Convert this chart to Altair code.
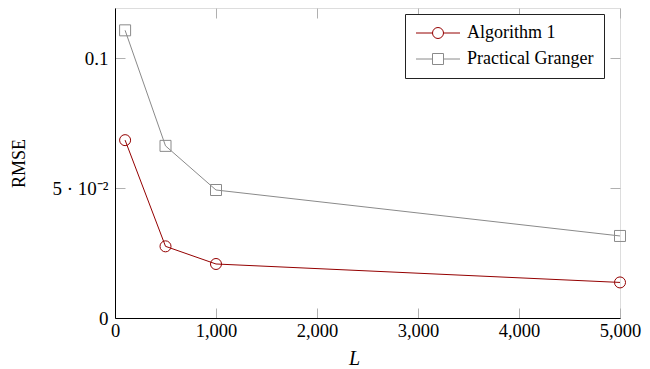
import altair as alt
import pandas as pd

L_values = [100, 500, 1000, 5000]
alg1 = [0.0685, 0.0276, 0.0208, 0.0137]
granger = [0.1108, 0.0663, 0.0493, 0.0316]
series_names = ["Algorithm 1", "Practical Granger"]
colors = ["#940000", "#8a8a8a"]
x_ticks = [0, 1000, 2000, 3000, 4000, 5000]
y_ticks = [0, 0.05, 0.1]

rows = []
for name, vals in zip(series_names, [alg1, granger]):
    for l, v in zip(L_values, vals):
        rows.append({"L": l, "RMSE": v, "series": name})
df = pd.DataFrame(rows)

FONT = "Liberation Serif"

circle_path = "M-4,0H-1M1,0H4M-1,0A1,1,0,1,1,1,0A1,1,0,1,1,-1,0"
square_path = "M-4,0H-1M1,0H4M-1,-1H1V1H-1Z"

x_enc = alt.X(
    "L:Q",
    scale=alt.Scale(domain=[0, 5000], nice=False, zero=False),
    axis=alt.Axis(
        values=x_ticks, format=",d", title="L", titleFontStyle="italic",
        titleFont=FONT, titleFontWeight="normal", titleFontSize=20,
        titleX=239, titleY=40, titleBaseline="middle", titleAlign="center",
        labelFont=FONT, labelFontSize=18.5, labelColor="black", labelPadding=3,
        labelFlush=False,
        ticks=False, domain=True, domainColor="black",
        grid=True, gridColor="#b0b0b0", gridDash=[10, 290, 10],
        titleColor="black",
    ),
)
y_enc = alt.Y(
    "RMSE:Q",
    scale=alt.Scale(domain=[0, 0.1194], nice=False),
    axis=alt.Axis(
        values=y_ticks,
        labelExpr="datum.value == 0 ? '0' : (datum.value < 0.07 ? '5 · 10⁻²' : '0.1')",
        title="RMSE", titleFont=FONT, titleFontWeight="normal", titleFontSize=18,
        titleX=-91, titleY=155, titleBaseline="alphabetic", titleAngle=270, titleAlign="center",
        labelFont=FONT, labelFontSize=19, labelColor="black", labelPadding=7,
        labelFlush=False,
        ticks=False, domain=True, domainColor="black",
        grid=True, gridColor="#b0b0b0", gridDash=[10, 485, 10],
        titleColor="black",
    ),
)

color_plain = alt.Color("series:N", scale=alt.Scale(domain=series_names, range=colors), legend=None)
shape_plain = alt.Shape("series:N", scale=alt.Scale(domain=series_names, range=["circle", "square"]), legend=None)

legend_cfg = dict(
    title=None, orient="none", legendX=290, legendY=6,
    strokeColor="#222222", fillColor="white", padding=10,
    labelFont=FONT, labelFontSize=18, labelColor="black",
    labelOffset=20, symbolOffset=14, rowPadding=8,
    symbolSize=121, symbolStrokeWidth=1, symbolOpacity=1,
)
color_leg = alt.Color("series:N", scale=alt.Scale(domain=series_names, range=colors), legend=alt.Legend(**legend_cfg))
shape_leg = alt.Shape("series:N", scale=alt.Scale(domain=series_names, range=[circle_path, square_path]), legend=alt.Legend(**legend_cfg))

base = alt.Chart(df).encode(x=x_enc, y=y_enc)
lines = base.mark_line(strokeWidth=1).encode(color=color_plain)
points = base.mark_point(filled=False, size=121, strokeWidth=1, opacity=1).encode(color=color_plain, shape=shape_plain)
legend_layer = base.mark_point(filled=False, size=121, strokeWidth=1, opacity=0).encode(color=color_leg, shape=shape_leg)

inner = alt.layer(lines, points)
chart = (
    alt.layer(inner, legend_layer)
    .resolve_scale(color="independent", shape="independent")
    .properties(
        width=505, height=310,
        autosize=alt.AutoSizeParams(type="none"),
        padding={"left": 107, "top": 0, "right": 22, "bottom": 50},
    )
    .configure_view(stroke="black", strokeWidth=1)
    .configure(background="white")
)

chart.save("out.html", embed_options={"renderer": "svg", "actions": False})
